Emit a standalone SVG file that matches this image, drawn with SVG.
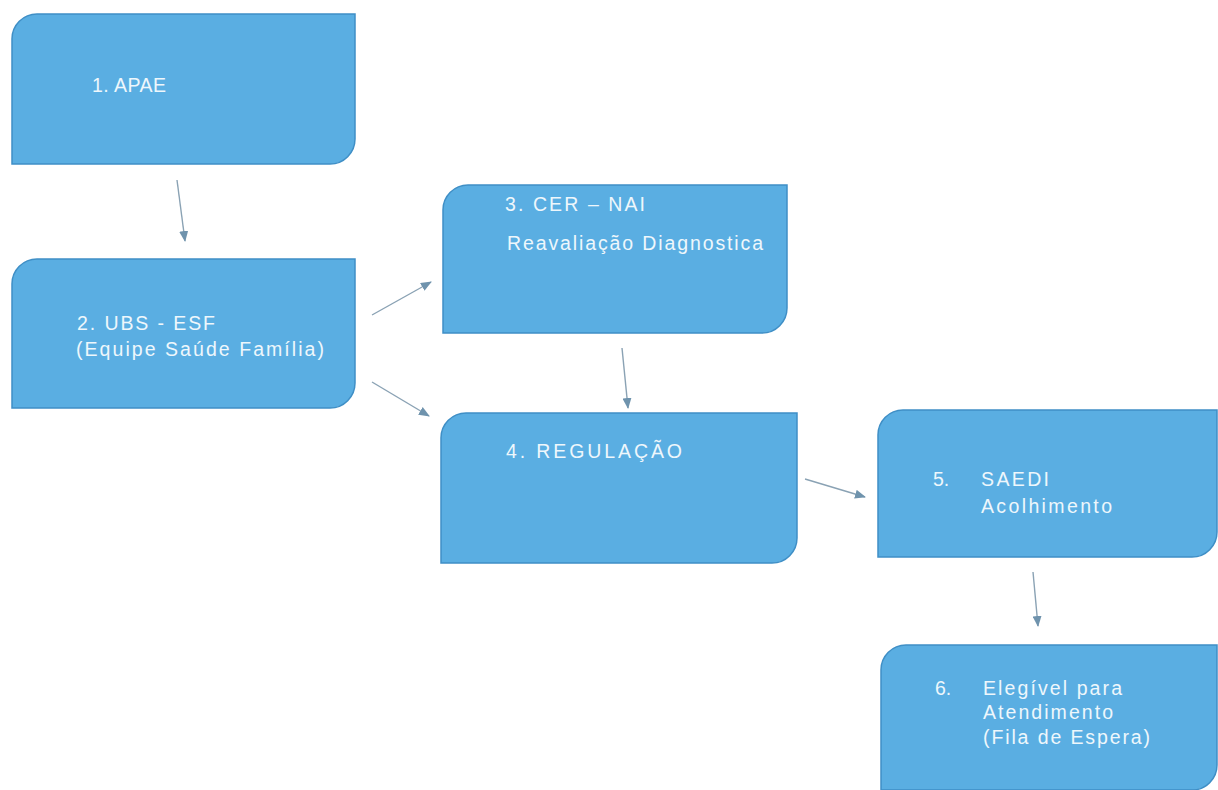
<svg xmlns="http://www.w3.org/2000/svg" width="1218" height="790" viewBox="0 0 1218 790">
<style>
.box{fill:#5aaee2;stroke:#3f8fc6;stroke-width:1.5}
.t{font-family:"Liberation Sans",Arial,sans-serif;font-size:19.5px;fill:#eef7fc}
.c{stroke:#8aa2b4;stroke-width:1.4;fill:none}
</style>
<defs>
<marker id="ah" markerUnits="userSpaceOnUse" markerWidth="11" markerHeight="9" refX="10" refY="4.5" orient="auto">
<path d="M0,0 L11,4.5 L0,9 Z" fill="#6f93ad"/>
</marker>
</defs>
<rect width="1218" height="790" fill="#ffffff"/>
<g id="connectors">
<line class="c" x1="177" y1="180" x2="185" y2="241" marker-end="url(#ah)"/>
<line class="c" x1="372" y1="315" x2="431" y2="282" marker-end="url(#ah)"/>
<line class="c" x1="622" y1="348" x2="628" y2="408" marker-end="url(#ah)"/>
<line class="c" x1="372" y1="382" x2="429" y2="416" marker-end="url(#ah)"/>
<line class="c" x1="805" y1="479" x2="865" y2="497" marker-end="url(#ah)"/>
<line class="c" x1="1033" y1="572" x2="1038" y2="626" marker-end="url(#ah)"/>
</g>
<g id="n1">
<path class="box" d="M12,39 A25,25 0 0 1 37,14 H355 V139 A25,25 0 0 1 330,164 H12 Z"/>
<text class="t" x="92" y="92" textLength="74" lengthAdjust="spacing">1. APAE</text>
</g>
<g id="n2">
<path class="box" d="M12,284 A25,25 0 0 1 37,259 H355 V383 A25,25 0 0 1 330,408 H12 Z"/>
<text class="t" x="77" y="330" textLength="138" lengthAdjust="spacing">2. UBS - ESF</text>
<text class="t" x="76" y="356" textLength="248" lengthAdjust="spacing">(Equipe Saúde Família)</text>
</g>
<g id="n3">
<path class="box" d="M443,210 A25,25 0 0 1 468,185 H787 V308 A25,25 0 0 1 762,333 H443 Z"/>
<text class="t" x="505" y="211" textLength="140" lengthAdjust="spacing">3. CER – NAI</text>
<text class="t" x="507" y="250" textLength="256" lengthAdjust="spacing">Reavaliação Diagnostica</text>
</g>
<g id="n4">
<path class="box" d="M441,438 A25,25 0 0 1 466,413 H797 V538 A25,25 0 0 1 772,563 H441 Z"/>
<text class="t" x="506" y="458" textLength="176" lengthAdjust="spacing">4. REGULAÇÃO</text>
</g>
<g id="n5">
<path class="box" d="M878,435 A25,25 0 0 1 903,410 H1217 V532 A25,25 0 0 1 1192,557 H878 Z"/>
<text class="t" x="933" y="486">5.</text>
<text class="t" x="981" y="486" textLength="68" lengthAdjust="spacing">SAEDI</text>
<text class="t" x="981" y="513" textLength="131" lengthAdjust="spacing">Acolhimento</text>
</g>
<g id="n6">
<path class="box" d="M881,670 A25,25 0 0 1 906,645 H1217 V765 A25,25 0 0 1 1192,790 H881 Z"/>
<text class="t" x="935" y="695">6.</text>
<text class="t" x="983" y="695" textLength="139" lengthAdjust="spacing">Elegível para</text>
<text class="t" x="983" y="719" textLength="130" lengthAdjust="spacing">Atendimento</text>
<text class="t" x="983" y="744" textLength="167" lengthAdjust="spacing">(Fila de Espera)</text>
</g>
</svg>
